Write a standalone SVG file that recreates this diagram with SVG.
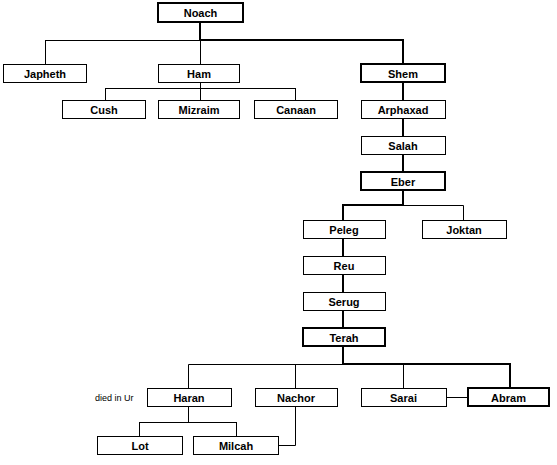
<svg xmlns="http://www.w3.org/2000/svg" width="557" height="465" viewBox="0 0 557 465">
<style>
rect{fill:#fff;stroke:#000;stroke-width:1}
rect.k{stroke-width:2}
text{font-family:"Liberation Sans",Arial,sans-serif;font-size:11px;font-weight:bold;text-anchor:middle;fill:#000}
text.n{font-weight:normal;font-size:9px;text-anchor:start}
.c path{fill:none;stroke:#000;stroke-width:1}
.c path.k{stroke-width:2}
</style>
<rect x="0" y="0" width="557" height="465" style="stroke:none"/>
<g class="c" id="connectors">
<path d="M45.5 40.5H200M45.5 40V64M200.5 40V64"/>
<path class="k" d="M200 22V40H403V64"/>
<path d="M200.5 82V88.5M105.5 88.5H295.5M105.5 88V100M200.5 88V100M295.5 88V100"/>
<path class="k" d="M403 82V100M403 118V136M403 154V172M403 190V205H343V220"/>
<path d="M403 205.5H463.5V220"/>
<path class="k" d="M343 238V256M343 274V292M343 310V328M343 346V364H510V388"/>
<path d="M343 364.5H188.5V388M295.5 364V388M403.5 364V388M446 397.5H468"/>
<path d="M188.5 406V422.5M139.5 422.5H236.5M139.5 422V436M236.5 422V436"/>
<path d="M295.5 406V445.5H278"/>
</g>
<g id="noach"><rect class="k" x="158" y="3" width="85" height="19"/><text x="200.5" y="17">Noach</text></g>
<g id="japheth"><rect x="3.5" y="64.5" width="83" height="18"/><text x="45" y="78">Japheth</text></g>
<g id="ham"><rect x="158.5" y="64.5" width="81" height="18"/><text x="199" y="78">Ham</text></g>
<g id="shem"><rect class="k" x="361" y="64" width="84" height="18"/><text x="403" y="78">Shem</text></g>
<g id="cush"><rect x="62.5" y="100.5" width="83" height="18"/><text x="104" y="114">Cush</text></g>
<g id="mizraim"><rect x="158.5" y="100.5" width="81" height="18"/><text x="199" y="114">Mizraim</text></g>
<g id="canaan"><rect x="254.5" y="100.5" width="83" height="18"/><text x="296" y="114">Canaan</text></g>
<g id="arphaxad"><rect x="361.5" y="100.5" width="84" height="18"/><text x="403" y="114">Arphaxad</text></g>
<g id="salah"><rect x="361.5" y="136.5" width="84" height="18"/><text x="403" y="150">Salah</text></g>
<g id="eber"><rect class="k" x="361" y="172" width="84" height="18"/><text x="403" y="186">Eber</text></g>
<g id="peleg"><rect x="303.5" y="220.5" width="82" height="18"/><text x="344" y="234">Peleg</text></g>
<g id="joktan"><rect x="422.5" y="220.5" width="84" height="18"/><text x="464" y="234">Joktan</text></g>
<g id="reu"><rect x="303.5" y="256.5" width="82" height="18"/><text x="344" y="270">Reu</text></g>
<g id="serug"><rect x="303.5" y="292.5" width="82" height="18"/><text x="344" y="306">Serug</text></g>
<g id="terah"><rect class="k" x="303" y="328" width="82" height="18"/><text x="344" y="342">Terah</text></g>
<g id="haran"><rect x="147.5" y="388.5" width="84" height="18"/><text x="189" y="402">Haran</text><text class="n" x="95" y="401">died in Ur</text></g>
<g id="nachor"><rect x="255.5" y="388.5" width="82" height="18"/><text x="296" y="402">Nachor</text></g>
<g id="sarai"><rect x="361.5" y="388.5" width="85" height="18"/><text x="403.5" y="402">Sarai</text></g>
<g id="abram"><rect class="k" x="468" y="388" width="81" height="18"/><text x="508.5" y="402">Abram</text></g>
<g id="lot"><rect x="97.5" y="436.5" width="85" height="18"/><text x="140" y="450">Lot</text></g>
<g id="milcah"><rect x="193.5" y="436.5" width="85" height="18"/><text x="236" y="450">Milcah</text></g>
</svg>
